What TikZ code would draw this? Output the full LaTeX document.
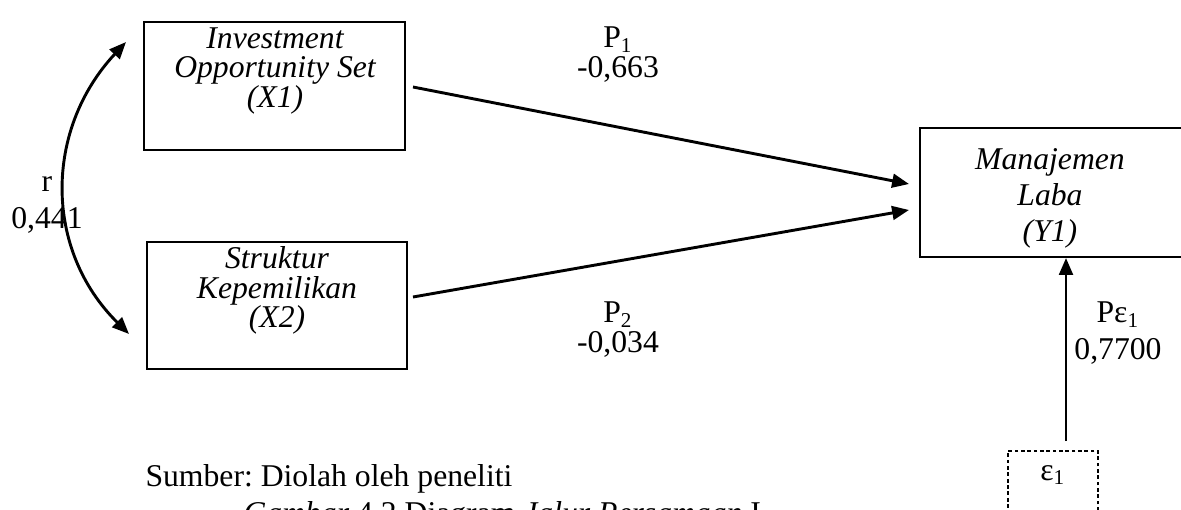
\documentclass[tikz,border=0pt]{standalone}
\usepackage{fontspec}
\setmainfont{Liberation Serif}
\usetikzlibrary{arrows.meta,calc}
\frenchspacing
\begin{document}
\begin{tikzpicture}[x=0.3788pt, y=-0.3788pt,
  box/.style={draw, line width=0.75pt, inner sep=0pt},
  epsbox/.style={draw, line width=0.75pt, inner sep=0pt, dash pattern=on 1.4pt off 1pt},
  boxtext/.style={inner sep=0pt, align=center, anchor=north, font=\fontsize{12pt}{11.2pt}\selectfont\itshape},
  ytext/.style={inner sep=0pt, align=center, anchor=north, font=\fontsize{12pt}{13.64pt}\selectfont\itshape},
  lbl/.style={inner sep=0pt, align=center, anchor=north, font=\fontsize{12pt}{11.6pt}\selectfont},
  lblwide/.style={inner sep=0pt, align=center, anchor=north, font=\fontsize{12pt}{14.2pt}\selectfont},
  plain/.style={inner sep=0pt, font=\fontsize{12pt}{14pt}\selectfont},
  arr/.style={line width=1.1pt, -{Triangle[length=6.4pt,width=5.2pt]}},
  dblarr/.style={line width=1.1pt, {Triangle[length=6.4pt,width=5.2pt]}-{Triangle[length=6.4pt,width=5.2pt]}},
]
\useasboundingbox (0,0) rectangle (1181,509);
\clip (0,0) rectangle (1181,509);

% boxes
\node[box, minimum width=98.87pt, minimum height=48.49pt] (x1) at (274.5,86) {};
\node[box, minimum width=98.49pt, minimum height=48.11pt] (x2) at (277,305.5) {};
\node[box, minimum width=99.62pt, minimum height=48.87pt] (y1) at (1051.5,192.5) {};
\node[epsbox, minimum width=34.09pt, minimum height=41.29pt] (eps) at (1053,505.5) {};

% box texts
\node[boxtext] (x1t) at (275,27) {Investment\\Opportunity Set\\(X1)};
\node[boxtext] (x2t) at (277,246) {Struktur\\Kepemilikan\\(X2)};
\node[ytext] (y1t) at (1050,148) {Manajemen\\Laba\\(Y1)};
\node[plain, anchor=base] (epst) at (1053,480) {ε\textsubscript{1}};

% labels
\node[lbl] (p1) at (618,26) {P\textsubscript{1}\\-0,663};
\node[lbl] (p2) at (618,301) {P\textsubscript{2}\\-0,034};
\node[lblwide] (pe) at (1118,301) {Pε\textsubscript{1}\\0,7700};
\node[lblwide] (r) at (47,176) {r\\0,441};

% connectors
\draw[arr] ($(x1.east)+(7,1)$) -- ($(y1.west)+(-10,-8.5)$);
\draw[arr] ($(x2.east)+(5,-8.5)$) -- ($(y1.west)+(-10,17.5)$);
\coordinate (e1) at ($(eps.north)+(13,-9)$);
\draw[arr] (e1) -- (e1 |- y1.south);
\draw[dblarr] ($(x1.north west)+(-17,21)$) .. controls (44,130) and (44,250) .. ($(x2.south west)+(-17,-36)$);

% source and caption
\node[plain, anchor=base west] (src) at (145,486) {Sumber: Diolah oleh peneliti};
\node[plain, anchor=base west] (cap) at (243,523) {\textit{Gambar} 4.2 Diagram \textit{Jalur Persamaan} I};
\end{tikzpicture}
\end{document}
